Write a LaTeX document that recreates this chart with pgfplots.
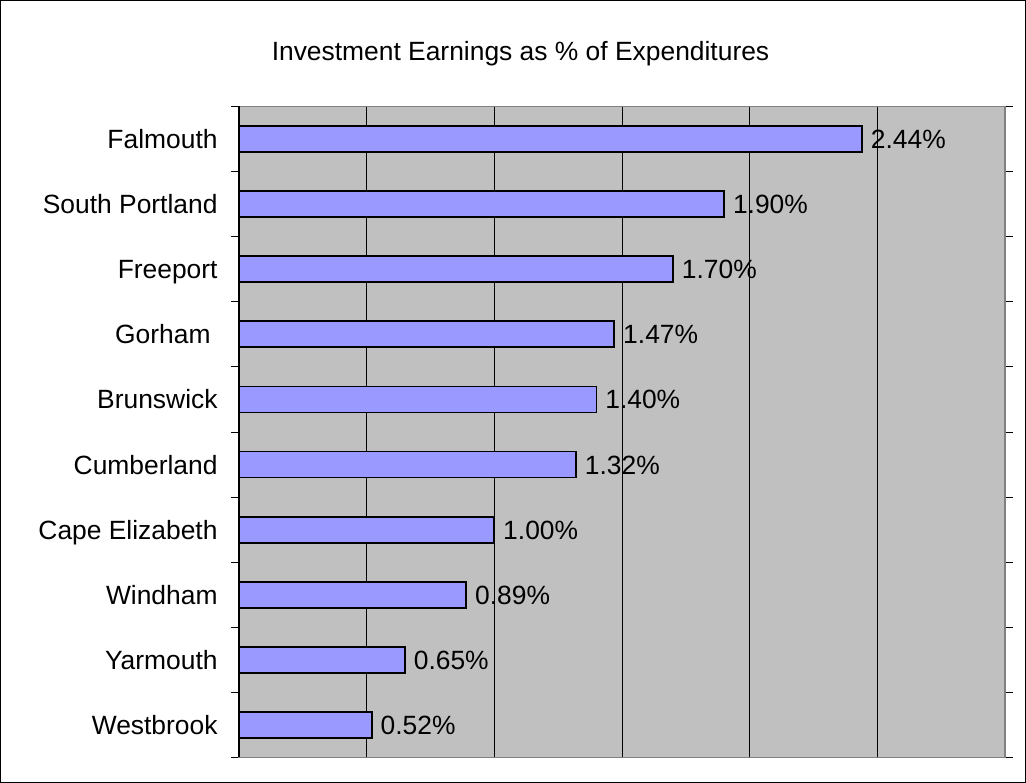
\documentclass[border=0pt]{standalone}
\usepackage{pgfplots}
\pgfplotsset{compat=1.18}
\usepackage{fontspec}
\setmainfont{Liberation Sans}
\definecolor{plotbg}{RGB}{192,192,192}
\definecolor{barfill}{RGB}{153,153,255}
\definecolor{frameg}{RGB}{128,128,128}
\pgfplotstableread{
y val
0 0.52
1 0.65
2 0.89
3 1.00
4 1.32
5 1.40
6 1.47
7 1.70
8 1.90
9 2.44
}\datatable
\begin{document}
\fontsize{26.4pt}{31pt}\selectfont
\begin{tikzpicture}
\useasboundingbox (0,0) rectangle (1026pt,783pt);
\draw[black, line width=1pt] (0.5pt,0.5pt) rectangle (1025.5pt,782.5pt);
\node[font=\fontsize{26.4pt}{31pt}\selectfont, inner sep=0pt] at (520.5pt,729pt) {Investment Earnings as \% of Expenditures};
\begin{axis}[
  at={(239pt,25.5pt)}, anchor=south west,
  scale only axis, width=766pt, height=651pt,
  xbar, bar width=0.4, bar shift=0pt,
  xmin=0, xmax=3, ymin=-0.5, ymax=9.5,
  /pgf/number format/assume math mode=true,
  axis background/.style={fill=plotbg},
  axis line style={frameg, line width=1.8pt},
  xtick={0.5,1,1.5,2,2.5}, xticklabels={}, xmajorgrids,
  major x tick style={draw=none},
  x grid style={black, line width=0.9pt},
  ytick={0,...,9},
  yticklabels={Westbrook, Yarmouth, Windham, Cape Elizabeth, Cumberland, Brunswick, {Gorham\rule{7pt}{0pt}}, Freeport, South Portland, Falmouth},
  major y tick style={draw=none},
  minor ytick={-0.5,0.5,...,9.5},
  minor y tick style={black, line width=0.9pt},
  minor tick length=8pt,
  tick align=outside,
  yticklabel style={font=\fontsize{26.4pt}{31pt}\selectfont, inner sep=0pt, anchor=east, text height=0.72em, text depth=0.0em, xshift=-17pt},
  nodes near coords={\pgfmathprintnumber[fixed,fixed zerofill,precision=2]{\pgfplotspointmeta}\%},
  nodes near coords style={font=\fontsize{26.4pt}{31pt}\selectfont, anchor=west, inner sep=0pt, text height=0.72em, text depth=0em, xshift=8pt, black},
  clip=false,
]
\addplot[fill=barfill, draw=black, line width=1.8pt] table[x=val, y=y] {\datatable};
\draw[black, line width=1.2pt] (axis cs:0,-0.5) -- (axis cs:0,9.5);
\end{axis}
\end{tikzpicture}
\end{document}
